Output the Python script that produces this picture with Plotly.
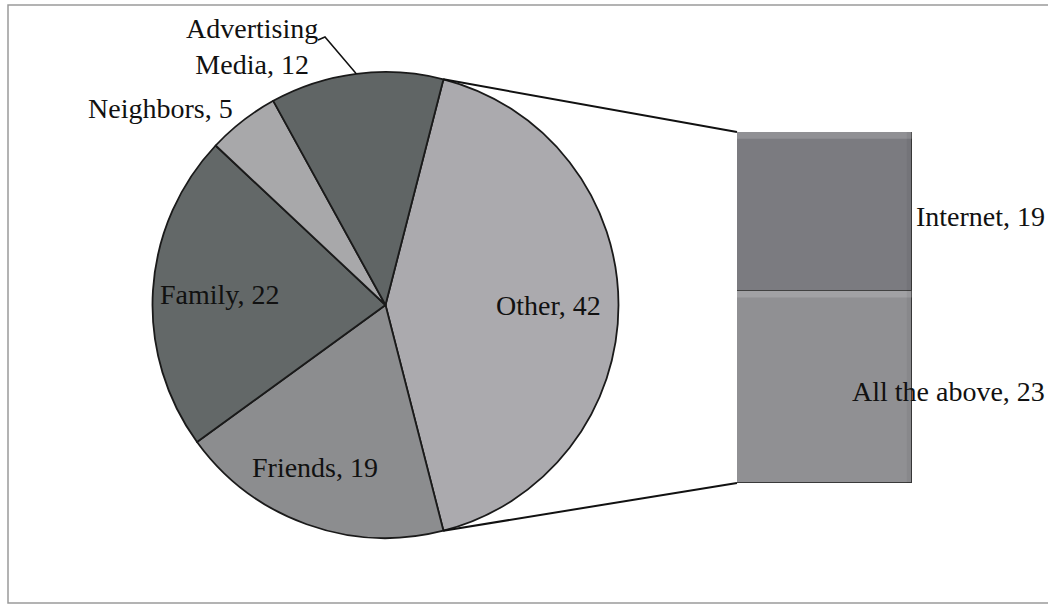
import math
import plotly.graph_objects as go

# Main pie: where respondents heard about the service
pie_labels = ["Other", "Friends", "Family", "Neighbors", "Advertising Media"]
pie_values = [42, 19, 22, 5, 12]
pie_colors = ["#abaaae", "#8c8d8f", "#636868", "#a8a8aa", "#606565"]

# Breakdown of the "Other" slice, drawn as a stacked bar (bottom to top)
bar_labels = ["All the above", "Internet"]
bar_values = [23, 19]
bar_colors = ["#909093", "#7b7b80"]

# Canvas and placement (pixels)
W, H = 1048, 604
CX, CY, R = 385.5, 305.0, 233.0
BAR_X0, BAR_X1, BAR_TOP, BAR_BOT = 737, 912, 132, 483
FONT = dict(family="Liberation Serif, Times New Roman, serif", size=28, color="#111111")


def to_paper(px, py):
    return px / W, 1 - py / H


def on_circle(angle_deg, r):
    a = math.radians(angle_deg)
    return CX + r * math.sin(a), CY - r * math.cos(a)


total = sum(pie_values)
# The split slice is centred on 3 o'clock
rotation = 90 - 360 * pie_values[0] / total / 2

starts, ang = [], rotation
for v in pie_values:
    starts.append(ang)
    ang += 360 * v / total
mids = [s + 180 * v / total for s, v in zip(starts, pie_values)]

fig = go.Figure()

px0, py1 = to_paper(CX - R, CY + R)
px1, py0 = to_paper(CX + R, CY - R)
fig.add_trace(go.Pie(
    labels=pie_labels,
    values=pie_values,
    sort=False,
    direction="clockwise",
    rotation=rotation,
    textinfo="none",
    hoverinfo="label+value",
    marker=dict(colors=pie_colors, line=dict(color="#1a1a1a", width=1.8)),
    domain=dict(x=[px0, px1], y=[py1, py0]),
))

for lab, val, col in zip(bar_labels, bar_values, bar_colors):
    fig.add_trace(go.Bar(
        x=[0], y=[val], width=1, name=lab,
        marker=dict(color=col, line=dict(color="#3a3a3a", width=1.4)),
        hoverinfo="name+y",
    ))

bar_total = sum(bar_values)

shapes = []
# Frame around the chart area
shapes.append(dict(type="rect", xref="paper", yref="paper",
                   x0=8 / W, x1=1.02, y0=1 - 603 / H, y1=1 - 5 / H,
                   line=dict(color="#9a9a9a", width=1.5)))

# Connector lines from the split slice to the bar
end_other = starts[0] + 360 * pie_values[0] / total
for ang_deg, bar_py in ((starts[0], BAR_TOP), (end_other, BAR_BOT)):
    ex, ey = on_circle(ang_deg, R)
    a = to_paper(ex, ey)
    b = to_paper(BAR_X0, bar_py)
    shapes.append(dict(type="line", xref="paper", yref="paper",
                       x0=a[0], y0=a[1], x1=b[0], y1=b[1],
                       line=dict(color="#111111", width=2)))

# Soft bevel highlight along the top of each bar segment
base = 0
for val in bar_values:
    top = base + val
    shapes.append(dict(type="rect", xref="x", yref="y", layer="above",
                       x0=-0.5, x1=0.5, y0=top - 0.8, y1=top,
                       fillcolor="rgba(255,255,255,0.16)", line=dict(width=0)))
    shapes.append(dict(type="rect", xref="x", yref="y", layer="above",
                       x0=0.47, x1=0.5, y0=base, y1=top,
                       fillcolor="rgba(0,0,0,0.05)", line=dict(width=0)))
    base = top

# Leader line for the advertising label
lx, ly = on_circle(mids[4], R)
pts = [to_paper(318, 40), to_paper(325, 37), to_paper(lx, ly)]
path = "M {} {} L {} {} L {} {}".format(*[c for p in pts for c in p])
shapes.append(dict(type="path", xref="paper", yref="paper", path=path,
                   line=dict(color="#111111", width=1.5)))

annotations = []
LABEL = dict(showarrow=False, font=FONT, xanchor="center", yanchor="middle")
# Labels inside the pie: (slice index, radius fraction, angle nudge in degrees)
for idx, frac, nudge in ((0, 0.70, 0.0), (1, 0.76, 3.5), (2, 0.71, 0.0)):
    x, y = on_circle(mids[idx] + nudge, R * frac)
    xp, yp = to_paper(x, y)
    annotations.append(dict(xref="paper", yref="paper", x=xp, y=yp,
                            text=f"{pie_labels[idx]}, {pie_values[idx]}", **LABEL))

# Labels outside the pie
xp, yp = to_paper(160, 108)
annotations.append(dict(xref="paper", yref="paper", x=xp, y=yp,
                        text=f"{pie_labels[3]}, {pie_values[3]}", **LABEL))
xp, yp = to_paper(252, 46)
adv_first, adv_second = pie_labels[4].split(" ")
annotations.append(dict(xref="paper", yref="paper", x=xp, y=yp, align="center",
                        text=f"{adv_first}<br>{adv_second}, {pie_values[4]}", **LABEL))

# Bar segment labels
base = 0
for lab, val in zip(bar_labels, bar_values):
    annotations.append(dict(xref="paper", yref="y", x=1047 / W, y=base + val / 2,
                            xanchor="right", yanchor="middle", text=f"{lab}, {val}",
                            showarrow=False, font=FONT, yshift=-5))
    base += val

fig.update_layout(
    width=W, height=H,
    margin=dict(l=0, r=0, t=0, b=0),
    paper_bgcolor="white", plot_bgcolor="rgba(0,0,0,0)",
    showlegend=False,
    barmode="stack", bargap=0,
    xaxis=dict(visible=False, range=[-0.5, 0.5],
               domain=[BAR_X0 / W, BAR_X1 / W], fixedrange=True),
    yaxis=dict(visible=False, range=[0, bar_total],
               domain=[1 - BAR_BOT / H, 1 - BAR_TOP / H], fixedrange=True),
    shapes=shapes,
    annotations=annotations,
)

fig.write_html("out.html")
